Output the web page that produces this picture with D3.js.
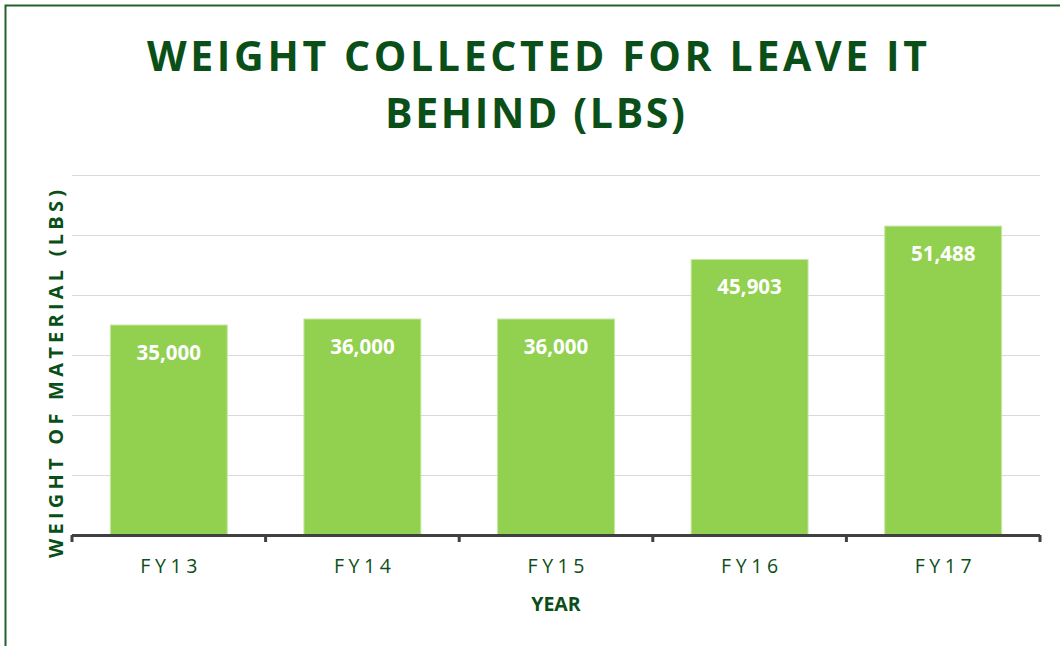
<!DOCTYPE html>
<html>
<head>
<meta charset="utf-8">
<script src="https://cdn.jsdelivr.net/npm/d3@7"></script>
<style>
  html, body { margin: 0; padding: 0; background: #fff; }
  svg { display: block; }
  text { font-family: "Open Sans", "DejaVu Sans", sans-serif; }
</style>
</head>
<body>
<div id="chart"></div>
<script>
// ---- Data ----
const categories = ["FY13", "FY14", "FY15", "FY16", "FY17"];
const values = [35000, 36000, 36000, 45903, 51488];
const yTicks = [0, 10000, 20000, 30000, 40000, 50000, 60000];
const titleLines = ["WEIGHT COLLECTED FOR LEAVE IT", "BEHIND (LBS)"];
const yAxisTitle = "WEIGHT OF MATERIAL (LBS)";
const xAxisTitle = "YEAR";

// ---- Layout ----
const W = 1060, H = 646;
const plot = { left: 72, right: 1040, top: 175, bottom: 535 };
const green = "#0b4f18";

const svg = d3.select("#chart").append("svg").attr("width", W).attr("height", H);

// outer border
svg.append("rect")
  .attr("x", 5.5).attr("y", 5.5)
  .attr("width", W + 20).attr("height", H + 20)
  .attr("fill", "none").attr("stroke", "#245f2f").attr("stroke-width", 2);

const x = d3.scaleBand().domain(categories)
  .range([plot.left, plot.right])
  .paddingInner(0.396).paddingOuter(0.198);
const y = d3.scaleLinear().domain([0, 60000]).range([plot.bottom, plot.top]);

// gridlines
svg.append("g").selectAll("line")
  .data(yTicks.filter(d => d > 0))
  .join("line")
  .attr("x1", plot.left).attr("x2", plot.right)
  .attr("y1", d => Math.round(y(d)) + 0.5).attr("y2", d => Math.round(y(d)) + 0.5)
  .attr("stroke", "#d9d9d9").attr("stroke-width", 1);

// bars
svg.append("g").selectAll("rect")
  .data(values)
  .join("rect")
  .attr("x", (d, i) => x(categories[i]))
  .attr("y", d => y(d))
  .attr("width", x.bandwidth())
  .attr("height", d => y(0) - y(d))
  .attr("fill", "#92d050")
  .attr("stroke", "#c8e6a4").attr("stroke-width", 1);

// data labels
svg.append("g").selectAll("text")
  .data(values)
  .join("text")
  .attr("x", (d, i) => x(categories[i]) + x.bandwidth() / 2)
  .attr("y", d => y(d) + 34.5)
  .attr("text-anchor", "middle")
  .attr("fill", "#ffffff")
  .attr("font-weight", "bold")
  .attr("font-size", 20.5)
  .text(d => d3.format(",")(d));

// x axis (category boundaries as ticks)
const step = x.step();
const bounds = d3.range(categories.length + 1).map(i => plot.left + i * step);
const axisG = svg.append("g");
axisG.append("line")
  .attr("x1", plot.left).attr("x2", plot.right)
  .attr("y1", plot.bottom + 0.5).attr("y2", plot.bottom + 0.5)
  .attr("stroke", "#404040").attr("stroke-width", 3);
axisG.selectAll("line.tick")
  .data(bounds)
  .join("line").attr("class", "tick")
  .attr("x1", d => d).attr("x2", d => d)
  .attr("y1", plot.bottom).attr("y2", plot.bottom + 7)
  .attr("stroke", "#404040").attr("stroke-width", 3);

// x tick labels
const fyLen = 57;
svg.append("g").selectAll("text")
  .data(categories)
  .join("text")
  .attr("x", d => x(d) + x.bandwidth() / 2 - fyLen / 2)
  .attr("y", 573)
  .attr("fill", green)
  .attr("font-size", 19.5)
  .attr("textLength", fyLen).attr("lengthAdjust", "spacing")
  .text(d => d);

// x axis title
svg.append("text")
  .attr("x", (plot.left + plot.right) / 2)
  .attr("y", 611)
  .attr("text-anchor", "middle")
  .attr("fill", green)
  .attr("font-weight", "bold")
  .attr("font-size", 19.5)
  .text(xAxisTitle);

// y axis title
svg.append("text")
  .attr("transform", "translate(63,558) rotate(-90)")
  .attr("x", 0).attr("y", 0)
  .attr("fill", green)
  .attr("font-weight", "bold")
  .attr("font-size", 20)
  .attr("textLength", 368).attr("lengthAdjust", "spacing")
  .text(yAxisTitle);

// chart title
const titleSpec = [
  { xStart: 147, len: 780, base: 71 },
  { xStart: 385, len: 300, base: 128 }
];
svg.append("g").selectAll("text")
  .data(titleLines)
  .join("text")
  .attr("x", (d, i) => titleSpec[i].xStart)
  .attr("y", (d, i) => titleSpec[i].base)
  .attr("fill", green)
  .attr("font-weight", "bold")
  .attr("font-size", 41)
  .attr("textLength", (d, i) => titleSpec[i].len).attr("lengthAdjust", "spacing")
  .text(d => d);
</script>
</body>
</html>
